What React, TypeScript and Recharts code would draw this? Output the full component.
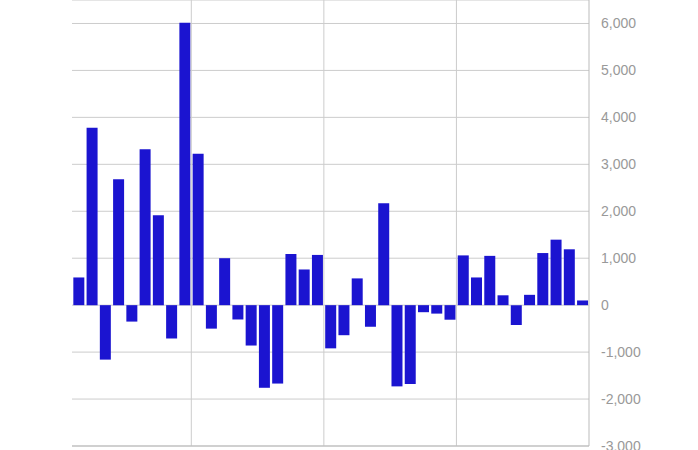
import {
  BarChart,
  Bar,
  XAxis,
  YAxis,
  CartesianGrid,
  ReferenceLine,
} from "recharts";

const periods = Array.from({ length: 39 }, (_, i) => `P${i + 1}`);

const changes = [
  590, 3780, -1160, 2680, -350, 3320, 1915, -710, 6015, 3225,
  -500, 1000, -305, -860, -1760, -1670, 1090, 760, 1070, -920,
  -640, 570, -460, 2170, -1730, -1680, -150, -180, -310, 1060,
  590, 1050, 210, -420, 220, 1110, 1395, 1190, 100,
];

const yTicks = [-3000, -2000, -1000, 0, 1000, 2000, 3000, 4000, 5000, 6000];

// vertical guides sit at the end of these periods
const dividers = [periods[8], periods[18], periods[28]];

const data = periods.map((p, i) => ({ period: p, value: changes[i] }));

const App = () => {
  return (
    <div style={{ position: "absolute", left: 0, top: 0 }}>
      <BarChart
        width={698}
        height={450}
        data={data}
        margin={{ top: 0, right: 10, left: 72, bottom: 4 }}
        barCategoryGap="10%"
      >
        <CartesianGrid vertical={false} stroke="#cccccc" />
        <XAxis dataKey="period" hide />
        <YAxis
          orientation="right"
          width={99}
          domain={[-3000, 6500]}
          ticks={yTicks}
          interval={0}
          tickFormatter={(v: number) => v.toLocaleString("en-US")}
          tick={{ fill: "#999999", fontSize: 14, fontFamily: "Liberation Sans, Arial, sans-serif" }}
          tickLine={false}
          tickSize={0}
          tickMargin={12}
          axisLine={{ stroke: "#bbbbbb" }}
          allowDataOverflow
        />
        {dividers.map((d) => (
          <ReferenceLine key={d} x={d} position="end" stroke="#cccccc" />
        ))}
        <ReferenceLine y={-3000} stroke="#bbbbbb" />
        <Bar dataKey="value" fill="#1b14d0" isAnimationActive={false} />
      </BarChart>
    </div>
  );
};

export default App;
